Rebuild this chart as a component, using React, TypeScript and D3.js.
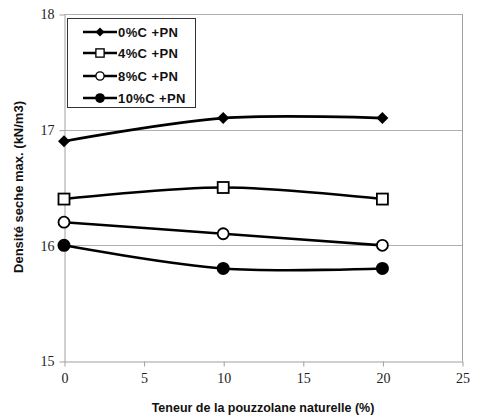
import React, { useRef, useEffect } from "react";
import * as d3 from "d3";

const xValues = [0, 10, 20];
const seriesNames = ["0%C +PN", "4%C +PN", "8%C +PN", "10%C +PN"];
const c0 = [16.9, 17.1, 17.1];
const c4 = [16.4, 16.5, 16.4];
const c8 = [16.2, 16.1, 16.0];
const c10 = [16.0, 15.8, 15.8];
const xTicks = [0, 5, 10, 15, 20, 25];
const yTicks = [15, 16, 17, 18];

const WIDTH = 483;
const HEIGHT = 419;
const margin = { top: 14, right: 20, bottom: 58, left: 64 };

const App = () => {
  const svgRef = useRef<SVGSVGElement>(null);

  useEffect(() => {
    const svg = d3.select(svgRef.current);
    svg.selectAll("*").remove();

    const xScale = d3
      .scaleLinear()
      .domain([0, 25])
      .range([margin.left, WIDTH - margin.right - 1]);
    const yScale = d3
      .scaleLinear()
      .domain([15, 18])
      .range([HEIGHT - margin.bottom, margin.top]);

    const [x0, x1] = xScale.range();
    const [y0, y1] = yScale.range();

    // grid lines
    svg
      .append("g")
      .selectAll("line")
      .data(yTicks.filter((d) => d > 15))
      .join("line")
      .attr("x1", x0)
      .attr("x2", x1)
      .attr("y1", (d) => Math.round(yScale(d)) + 0.5)
      .attr("y2", (d) => Math.round(yScale(d)) + 0.5)
      .attr("stroke", "#b0b0b0")
      .attr("stroke-width", 1);

    // right border
    svg
      .append("line")
      .attr("x1", Math.round(x1) + 0.5)
      .attr("x2", Math.round(x1) + 0.5)
      .attr("y1", y1)
      .attr("y2", y0)
      .attr("stroke", "#a0a0a0");

    const xAxis = d3
      .axisBottom(xScale)
      .tickValues(xTicks)
      .tickFormat(d3.format("d"))
      .tickSize(5)
      .tickSizeOuter(0);
    const gx = svg
      .append("g")
      .attr("transform", `translate(0.5,${Math.round(y0) + 0.5})`)
      .call(xAxis);

    const yAxis = d3
      .axisLeft(yScale)
      .tickValues(yTicks)
      .tickFormat(d3.format("d"))
      .tickSize(5)
      .tickSizeOuter(0);
    const gy = svg
      .append("g")
      .attr("transform", `translate(${Math.round(x0) + 0.5},0.5)`)
      .call(yAxis);

    [gx, gy].forEach((g) => {
      g.attr("font-family", "'Liberation Serif', serif").attr("font-size", 14);
      g.select(".domain").attr("stroke", "#a0a0a0");
      g.selectAll(".tick line").attr("stroke", "#a0a0a0");
      g.selectAll(".tick text").attr("fill", "#222");
    });
    gx.selectAll(".tick text").attr("dy", "1.05em").attr("y", 7);
    gy.selectAll(".tick text").attr("x", -10);

    const line = d3
      .line<number>()
      .x((d, i) => xScale(xValues[i]))
      .y((d) => yScale(d))
      .curve(d3.curveCardinal);

    const allSeries = [c0, c4, c8, c10];
    const markers = ["diamond", "square", "circle", "dot"];

    const drawMarker = (
      g: d3.Selection<SVGGElement, unknown, null, undefined>,
      kind: string,
      cx: number,
      cy: number
    ) => {
      if (kind === "diamond") {
        g.append("path")
          .attr("d", `M${cx},${cy - 6}L${cx + 6},${cy}L${cx},${cy + 6}L${cx - 6},${cy}Z`)
          .attr("fill", "#000");
      } else if (kind === "square") {
        g.append("rect")
          .attr("x", cx - 5.5)
          .attr("y", cy - 5.5)
          .attr("width", 11)
          .attr("height", 11)
          .attr("fill", "#fff")
          .attr("stroke", "#000")
          .attr("stroke-width", 1.8);
      } else if (kind === "circle") {
        g.append("circle")
          .attr("cx", cx)
          .attr("cy", cy)
          .attr("r", 5.5)
          .attr("fill", "#fff")
          .attr("stroke", "#000")
          .attr("stroke-width", 1.8);
      } else {
        g.append("circle")
          .attr("cx", cx)
          .attr("cy", cy)
          .attr("r", 6.5)
          .attr("fill", "#000");
      }
    };

    allSeries.forEach((values, s) => {
      svg
        .append("path")
        .datum(values)
        .attr("d", line)
        .attr("fill", "none")
        .attr("stroke", "#000")
        .attr("stroke-width", 2.6);
      const g = svg.append("g");
      values.forEach((v, i) => drawMarker(g, markers[s], xScale(xValues[i]), yScale(v)));
    });

    // legend
    const legend = svg.append("g");
    legend
      .append("rect")
      .attr("x", 67.5)
      .attr("y", 18.5)
      .attr("width", 128)
      .attr("height", 89)
      .attr("fill", "#fff")
      .attr("stroke", "#333")
      .attr("stroke-width", 1);
    const legendY = [32, 53, 76, 98];
    seriesNames.forEach((name, s) => {
      const ly = legendY[s];
      legend
        .append("line")
        .attr("x1", 83)
        .attr("x2", 117)
        .attr("y1", ly)
        .attr("y2", ly)
        .attr("stroke", "#000")
        .attr("stroke-width", 2.6);
      const lg = legend.append("g").attr("transform", `translate(100,${ly}) scale(0.75) translate(-100,${-ly})`);
      drawMarker(lg, markers[s], 100, ly);
      legend
        .append("text")
        .attr("x", 118)
        .attr("y", ly)
        .attr("dy", "0.36em")
        .attr("fill", "#111")
        .style("font-family", "'Liberation Sans', Arial, sans-serif")
        .style("font-size", "13px")
        .style("font-weight", "bold")
        .style("letter-spacing", "0.4px")
        .text(name);
    });

    // axis titles
    svg
      .append("text")
      .attr("x", (x0 + x1) / 2)
      .attr("y", 412)
      .attr("fill", "#111")
      .style("font-family", "'Liberation Sans', Arial, sans-serif")
      .style("font-size", "12.5px")
      .style("font-weight", "bold")
      .style("text-anchor", "middle")
      .text("Teneur de la pouzzolane naturelle (%)");

    svg
      .append("text")
      .attr("transform", `translate(23,${187}) rotate(-90)`)
      .attr("fill", "#111")
      .style("font-family", "'Liberation Sans', Arial, sans-serif")
      .style("font-size", "13px")
      .style("font-weight", "bold")
      .style("text-anchor", "middle")
      .text("Densité seche max. (kN/m3)");
  }, []);

  return (
    <div style={{ position: "absolute", left: 0, top: 0 }}>
      <svg ref={svgRef} width={WIDTH} height={HEIGHT} style={{ display: "block", background: "#fff" }} />
    </div>
  );
};

export default App;
